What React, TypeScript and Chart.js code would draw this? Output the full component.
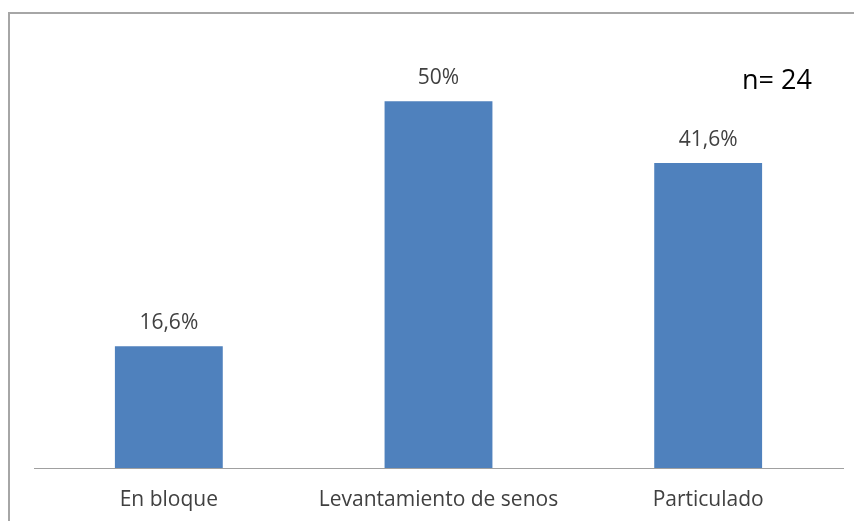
import React, { useEffect, useRef } from "react";
import { Chart, registerables } from "chart.js";

Chart.register(...registerables);

const categories = ["En bloque", "Levantamiento de senos", "Particulado"];
const values = [16.6, 50, 41.6];
const valueLabels = ["16,6%", "50%", "41,6%"];
const noteText = "n= 24";

const FONT = "'Open Sans', 'DejaVu Sans', sans-serif";

const framePlugin = {
  id: "frame",
  beforeDraw(chart: any) {
    const ctx = chart.ctx;
    ctx.save();
    ctx.fillStyle = "#ffffff";
    ctx.fillRect(0, 0, chart.width, chart.height);
    ctx.strokeStyle = "#a6a6a6";
    ctx.lineWidth = 2;
    ctx.beginPath();
    ctx.moveTo(9, chart.height);
    ctx.lineTo(9, 13);
    ctx.lineTo(chart.width, 13);
    ctx.stroke();
    ctx.restore();
  },
};

const labelPlugin = {
  id: "valueLabels",
  afterDatasetsDraw(chart: any) {
    const ctx = chart.ctx;
    const meta = chart.getDatasetMeta(0);
    ctx.save();
    ctx.fillStyle = "#404040";
    ctx.font = `21px ${FONT}`;
    ctx.textAlign = "center";
    ctx.textBaseline = "middle";
    meta.data.forEach((bar: any, i: number) => {
      ctx.fillText(valueLabels[i], bar.x, bar.y - 23);
    });
    ctx.fillStyle = "#000000";
    ctx.font = `27px ${FONT}`;
    ctx.textAlign = "left";
    ctx.fillText(noteText, 742, 81);
    ctx.restore();
  },
};

export default function App() {
  const ref = useRef<HTMLCanvasElement | null>(null);
  useEffect(() => {
    if (!ref.current) return;
    const chart = new Chart(ref.current, {
      type: "bar",
      data: {
        labels: categories,
        datasets: [
          {
            data: values,
            backgroundColor: "#4f81bd",
            borderWidth: 0,
            categoryPercentage: 1,
            barPercentage: 0.4,
          },
        ],
      },
      options: {
        animation: false,
        responsive: false,
        layout: { padding: { left: 34, right: 11, top: 28, bottom: 0 } },
        plugins: { legend: { display: false }, tooltip: { enabled: false } },
        scales: {
          x: {
            grid: { display: false, drawTicks: false },
            border: { display: true, color: "#a0a0a0", width: 1 },
            ticks: {
              color: "#404040",
              font: { family: FONT, size: 21 },
              padding: 19,
              maxRotation: 0,
            },
            afterFit(scale: any) {
              scale.height = 53;
            },
          },
          y: { display: false, min: 0, max: 60 },
        },
      },
      plugins: [framePlugin, labelPlugin],
    });
    return () => chart.destroy();
  }, []);
  return (
    <div style={{ position: "fixed", left: 0, top: 0, width: 854, height: 521 }}>
      <canvas ref={ref} width={854} height={521} style={{ width: 854, height: 521 }} />
    </div>
  );
}
